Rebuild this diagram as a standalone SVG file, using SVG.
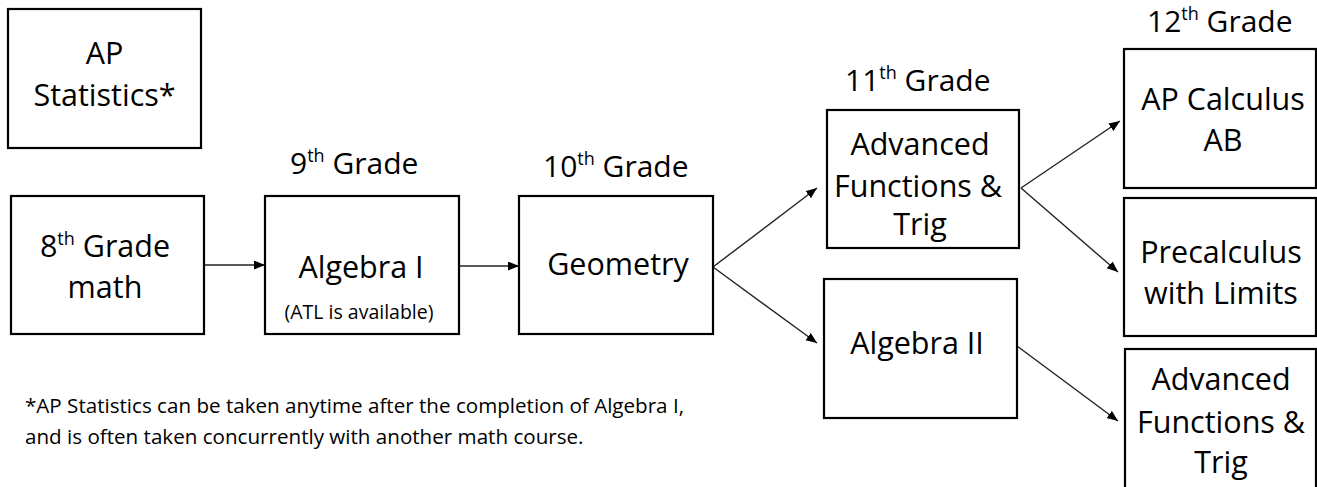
<svg xmlns="http://www.w3.org/2000/svg" width="1317" height="487" viewBox="0 0 1317 487">
<style>
.box{fill:#fff;stroke:#000;stroke-width:2.2}
.t{font-family:"Open Sans","Liberation Sans",sans-serif;font-size:30.5px;fill:#000;text-anchor:middle}
.g{font-family:"Open Sans","Liberation Sans",sans-serif;font-size:30px;fill:#000}
.s{font-size:18px}
.small{font-family:"Open Sans","Liberation Sans",sans-serif;font-size:19.5px;fill:#000;text-anchor:middle}
.note{font-family:"Open Sans","Liberation Sans",sans-serif;font-size:20.6px;fill:#000}
.c{stroke:#222;stroke-width:1.4;fill:none;marker-end:url(#ah)}
</style>
<defs>
<marker id="ah" markerUnits="userSpaceOnUse" markerWidth="12" markerHeight="10" refX="11" refY="4.5" orient="auto">
<path d="M0,0 L11,4.5 L0,9 z" fill="#000"/>
</marker>
</defs>
<rect width="1317" height="487" fill="#fff"/>
<g id="labels">
<text class="g" x="290" y="174">9<tspan class="s" dy="-12">th</tspan><tspan dy="12"> Grade</tspan></text>
<text class="g" x="543" y="177">10<tspan class="s" dy="-12">th</tspan><tspan dy="12"> Grade</tspan></text>
<text class="g" x="845" y="91">11<tspan class="s" dy="-12">th</tspan><tspan dy="12"> Grade</tspan></text>
<text class="g" x="1147" y="32">12<tspan class="s" dy="-12">th</tspan><tspan dy="12"> Grade</tspan></text>
</g>
<g id="connectors">
<line class="c" x1="204" y1="265" x2="265" y2="265"/>
<line class="c" x1="459" y1="266" x2="519" y2="266"/>
<line class="c" x1="713" y1="267" x2="817" y2="188"/>
<line class="c" x1="713" y1="267" x2="817" y2="343"/>
<line class="c" x1="1021" y1="188" x2="1120" y2="121"/>
<line class="c" x1="1021" y1="188" x2="1118" y2="272"/>
<line class="c" x1="1017" y1="346" x2="1118" y2="421"/>
</g>
<g id="ap-stats">
<rect class="box" x="8" y="9" width="193" height="139"/>
<text class="t" x="104.5" y="64">AP</text>
<text class="t" x="104.5" y="106">Statistics*</text>
</g>
<g id="grade8">
<rect class="box" x="11" y="196" width="193" height="138"/>
<text class="t" x="105" y="257">8<tspan class="s" dy="-12">th</tspan><tspan dy="12"> Grade</tspan></text>
<text class="t" x="105" y="298">math</text>
</g>
<g id="algebra1">
<rect class="box" x="265" y="196" width="194" height="138"/>
<text class="t" x="361" y="278">Algebra I</text>
<text class="small" x="359" y="319">(ATL is available)</text>
</g>
<g id="geometry">
<rect class="box" x="519" y="196" width="194" height="138"/>
<text class="t" x="618" y="275">Geometry</text>
</g>
<g id="adv-func-11">
<rect class="box" x="827" y="110" width="192" height="138"/>
<text class="t" x="920" y="155">Advanced</text>
<text class="t" x="918" y="197">Functions &amp;</text>
<text class="t" x="920" y="235">Trig</text>
</g>
<g id="algebra2">
<rect class="box" x="824" y="279" width="193" height="139"/>
<text class="t" x="917" y="354">Algebra II</text>
</g>
<g id="ap-calc">
<rect class="box" x="1124" y="49" width="192" height="139"/>
<text class="t" x="1223" y="110">AP Calculus</text>
<text class="t" x="1223" y="151">AB</text>
</g>
<g id="precalc">
<rect class="box" x="1124" y="198" width="192" height="138"/>
<text class="t" x="1221" y="263">Precalculus</text>
<text class="t" x="1221" y="304">with Limits</text>
</g>
<g id="adv-func-12">
<rect class="box" x="1125" y="349" width="191" height="150"/>
<text class="t" x="1221" y="390">Advanced</text>
<text class="t" x="1221" y="433">Functions &amp;</text>
<text class="t" x="1221" y="473">Trig</text>
</g>
<g id="footnote">
<text class="note" x="25" y="413">*AP Statistics can be taken anytime after the completion of Algebra I,</text>
<text class="note" x="25" y="444">and is often taken concurrently with another math course.</text>
</g>
</svg>
